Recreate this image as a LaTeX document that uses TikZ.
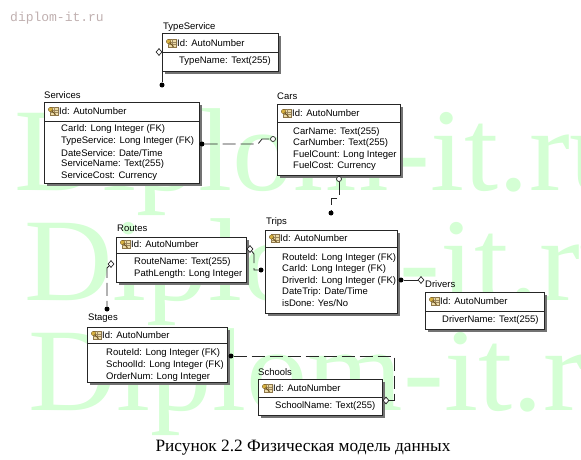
\documentclass[tikz,border=0pt]{standalone}
\usepackage{fontspec}
\setmainfont{Liberation Sans}
\newfontfamily\capfont{Liberation Serif}
\newfontfamily\sitefont{Liberation Mono}
\usepackage{tikz}
\usetikzlibrary{shapes.geometric,shadows}
\definecolor{wmgreen}{RGB}{212,255,212}
\definecolor{sitegray}{RGB}{192,176,176}
\definecolor{keygold}{RGB}{214,176,64}
\definecolor{keybrown}{RGB}{112,84,28}
\newcommand{\attrfont}{\fontsize{9.5pt}{11pt}\selectfont}
\newcommand{\shadowcolor}{black!55}

\tikzset{
  entbox/.style={draw=black!85, fill=white, line width=0.8pt, inner sep=0pt, anchor=north west,
    drop shadow={shadow xshift=3pt, shadow yshift=-3pt, fill=\shadowcolor, opacity=1}},
  entsep/.style={draw=black!85, line width=0.8pt},
  enttitle/.style={anchor=west, inner sep=0pt, font=\attrfont},
  entattr/.style={anchor=west, inner sep=0pt, font=\attrfont},
  rel/.style={draw=black!85, line width=0.8pt, dash pattern=on 13pt off 5pt},
  dotend/.style={circle, fill=black, inner sep=0pt, minimum size=5pt},
  ringend/.style={circle, draw=black!85, fill=white, line width=0.7pt, inner sep=0pt, minimum size=5pt},
  diaend/.style={diamond, draw=black!85, fill=white, line width=0.7pt, inner sep=0pt, minimum width=6pt, minimum height=7pt},
  wmark/.style={anchor=base west, inner sep=0pt, xscale=1.04, text=wmgreen, font=\capfont\fontsize{118pt}{118pt}\selectfont},
  keyicon/.pic={
    \fill[keygold!45, draw=keybrown!80, line width=0.3pt] (-3,-4) rectangle (5,4);
    \draw[keybrown!70, line width=0.3pt] (-3,-1) -- (5,-1) (-3,1.5) -- (5,1.5) (1,-4) -- (1,4);
    \fill[keygold, draw=keybrown, line width=0.3pt] (-2.5,-1.5) circle (2.2);
    \draw[keybrown, line width=1pt] (-1.5,-0.5) -- (2.5,3.5);
  }
}

\begin{document}
\begin{tikzpicture}[x=1pt, y=-1pt]
\clip (0,0) rectangle (581,460);
%watermark
\node[wmark] (wm1) at (14,190) {Diplom-it.ru};
\node[wmark] (wm2) at (24,300) {Diplom-it.ru};
\node[wmark] (wm3) at (28,410) {Diplom-it.ru};
\node[anchor=west, inner sep=0pt, text=sitegray, font=\sitefont\fontsize{13pt}{13pt}\selectfont] (site) at (10,18) {diplom-it.ru};

%TypeService
\node[enttitle] (typeservice-t) at (163,27) {TypeService};
\node[entbox, minimum width=116pt, minimum height=38pt] (typeservice) at (162,33) {};
\draw[entsep] (162,52) -- (278,52);
\pic at (171,43) {keyicon};
\node[entattr] (typeservice-id) at (177,43) {Id: AutoNumber};
\node[entattr] (typeservice-1) at (179,61.5) {TypeName: Text(255)};

%Services
\node[enttitle] (services-t) at (44,95) {Services};
\node[entbox, minimum width=155pt, minimum height=81pt] (services) at (44,102) {};
\draw[entsep] (44,121) -- (199,121);
\pic at (53,111) {keyicon};
\node[entattr] (services-id) at (59,111) {Id: AutoNumber};
\node[entattr] (services-1) at (61,129.5) {CarId: Long Integer (FK)};
\node[entattr] (services-2) at (61,141.1) {TypeService: Long Integer (FK)};
\node[entattr] (services-3) at (61,152.7) {DateService: Date/Time};
\node[entattr] (services-4) at (61,164.3) {ServiceName: Text(255)};
\node[entattr] (services-5) at (61,175.9) {ServiceCost: Currency};

%Cars
\node[enttitle] (cars-t) at (277,96) {Cars};
\node[entbox, minimum width=123pt, minimum height=71pt] (cars) at (277,104) {};
\draw[entsep] (277,122) -- (400,122);
\pic at (286,113) {keyicon};
\node[entattr] (cars-id) at (292,113) {Id: AutoNumber};
\node[entattr] (cars-1) at (293,132) {CarName: Text(255)};
\node[entattr] (cars-2) at (293,143.5) {CarNumber: Text(255)};
\node[entattr] (cars-3) at (293,155) {FuelCount: Long Integer};
\node[entattr] (cars-4) at (293,166.5) {FuelCost: Currency};

%Routes
\node[enttitle] (routes-t) at (117,228) {Routes};
\node[entbox, minimum width=130pt, minimum height=45pt] (routes) at (116,237) {};
\draw[entsep] (116,253) -- (246,253);
\pic at (125,244) {keyicon};
\node[entattr] (routes-id) at (131,244) {Id: AutoNumber};
\node[entattr] (routes-1) at (134,262.5) {RouteName: Text(255)};
\node[entattr] (routes-2) at (134,274) {PathLength: Long Integer};

%Trips
\node[enttitle] (trips-t) at (266,222.5) {Trips};
\node[entbox, minimum width=132pt, minimum height=83pt] (trips) at (265,230) {};
\draw[entsep] (265,247) -- (397,247);
\pic at (274,238.5) {keyicon};
\node[entattr] (trips-id) at (280,238.5) {Id: AutoNumber};
\node[entattr] (trips-1) at (282,258) {RouteId: Long Integer (FK)};
\node[entattr] (trips-2) at (282,269.3) {CarId: Long Integer (FK)};
\node[entattr] (trips-3) at (282,280.6) {DriverId: Long Integer (FK)};
\node[entattr] (trips-4) at (282,291.9) {DateTrip: Date/Time};
\node[entattr] (trips-5) at (282,303.2) {isDone: Yes/No};

%Drivers
\node[enttitle] (drivers-t) at (425,284) {Drivers};
\node[entbox, minimum width=119pt, minimum height=37pt] (drivers) at (425,292) {};
\draw[entsep] (425,311) -- (544,311);
\pic at (434,301) {keyicon};
\node[entattr] (drivers-id) at (440,301) {Id: AutoNumber};
\node[entattr] (drivers-1) at (442,320) {DriverName: Text(255)};

%Stages
\node[enttitle] (stages-t) at (88,318.5) {Stages};
\node[entbox, minimum width=140pt, minimum height=55pt] (stages) at (87,327) {};
\draw[entsep] (87,343) -- (227,343);
\pic at (96,335) {keyicon};
\node[entattr] (stages-id) at (102,335) {Id: AutoNumber};
\node[entattr] (stages-1) at (106,353) {RouteId: Long Integer (FK)};
\node[entattr] (stages-2) at (106,365) {SchoolId: Long Integer (FK)};
\node[entattr] (stages-3) at (106,377) {OrderNum: Long Integer};

%Schools
\node[enttitle] (schools-t) at (258,372) {Schools};
\node[entbox, minimum width=124pt, minimum height=36pt] (schools) at (258,379) {};
\draw[entsep] (258,397) -- (382,397);
\pic at (267,388) {keyicon};
\node[entattr] (schools-id) at (273,388) {Id: AutoNumber};
\node[entattr] (schools-1) at (275,406.5) {SchoolName: Text(255)};

%ends
\node[diaend] (tsdia) at (159,52) {};
\node[dotend] (tsdot) at (162,85) {};
\node[dotend] (scdot) at (202,144) {};
\node[ringend] (sccirc) at (273,139) {};
\node[ringend] (ctcirc) at (339,179) {};
\node[dotend] (ctdot) at (331,213) {};
\node[diaend] (rtdia) at (250,249) {};
\node[dotend] (rtdot) at (261,270) {};
\node[diaend] (rsdia) at (111,264) {};
\node[dotend] (rsdot) at (107,309) {};
\node[dotend] (tddot) at (401,280) {};
\node[diaend] (tddia) at (421,280) {};
\node[dotend] (ssdot) at (231,356) {};
\node[diaend] (ssdia) at (386,400.5) {};

%relations
\draw[rel] (tsdia) -| (tsdot);
\draw[rel] (scdot) -- ++(56,0) -- ++(4,-5) -- (sccirc);
\draw[rel] (ctcirc) -- ++(0,19) -| (ctdot);
\draw[rel] (rtdia) -- ++(4,5) |- (rtdot);
\draw[rel] (rsdia) -- ++(-4,4) -- (rsdot);
\draw[rel, solid] (tddot) -- (tddia);
\draw[rel] (ssdot) -- ++(163,0) |- (ssdia);

%caption
\node[inner sep=0pt, font=\capfont\fontsize{17.3pt}{17.3pt}\selectfont] (caption) at (303,448) {Рисунок 2.2 Физическая модель данных};
\end{tikzpicture}
\end{document}
